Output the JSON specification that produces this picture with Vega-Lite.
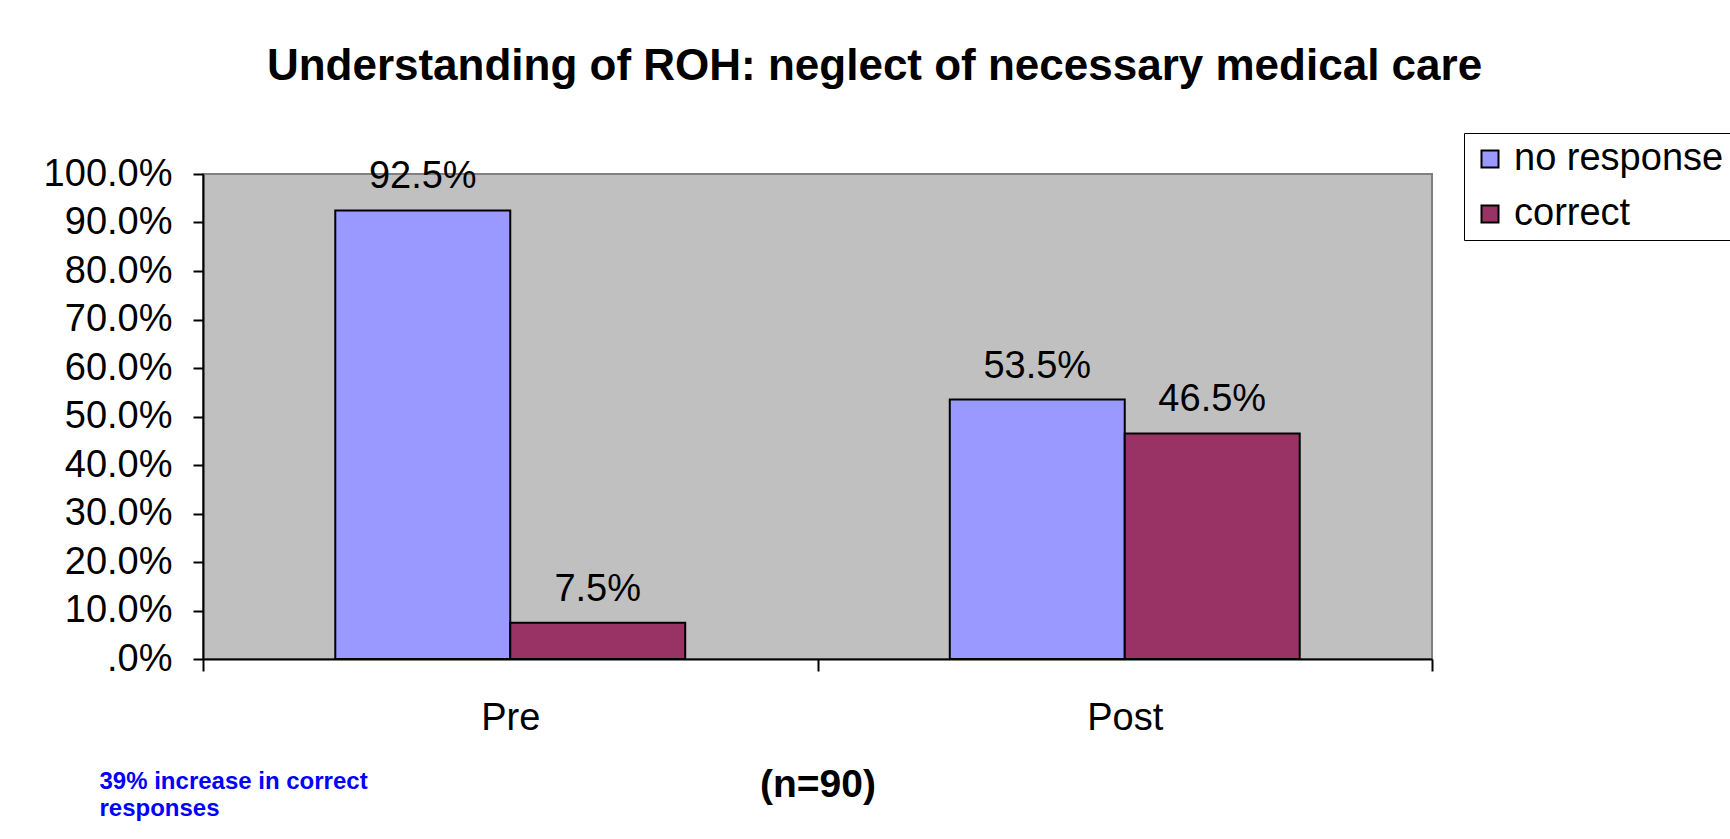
{
  "$schema": "https://vega.github.io/schema/vega-lite/v6.json",
  "autosize": {"type": "none"},
  "width": 1229,
  "height": 485,
  "padding": {"left": 203, "top": 174, "right": 298, "bottom": 180},
  "background": "white",
  "config": {
    "font": "Liberation Sans",
    "view": {"stroke": "#808080", "strokeWidth": 2, "fill": "#C0C0C0"}
  },
  "title": {
    "text": "Understanding of ROH: neglect of necessary medical care",
    "fontSize": 44,
    "fontWeight": "bold",
    "color": "black",
    "anchor": "middle",
    "frame": "group",
    "dx": 57,
    "offset": 44
  },
  "data": {
    "values": [
      {"phase": "Pre", "series": "no response", "value": 0.925},
      {"phase": "Pre", "series": "correct", "value": 0.075},
      {"phase": "Post", "series": "no response", "value": 0.535},
      {"phase": "Post", "series": "correct", "value": 0.465}
    ]
  },
  "encoding": {
    "x": {
      "field": "phase",
      "type": "nominal",
      "sort": ["Pre", "Post"],
      "scale": {"paddingInner": 0, "paddingOuter": 0},
      "axis": {
        "title": "(n=90)",
        "titleFontSize": 39,
        "titleFontWeight": "bold",
        "titleColor": "black",
        "titlePadding": 28,
        "labelAngle": 0,
        "labelFontSize": 38,
        "labelColor": "black",
        "labelPadding": 28,
        "tickBand": "extent",
        "tickSize": 12,
        "tickColor": "black",
        "domainColor": "black",
        "domainWidth": 2,
        "tickWidth": 2
      }
    },
    "xOffset": {
      "field": "series",
      "type": "nominal",
      "sort": ["no response", "correct"],
      "scale": {"paddingOuter": 0.756, "paddingInner": 0}
    }
  },
  "layer": [
    {
      "mark": {"type": "bar", "stroke": "black", "strokeWidth": 2},
      "encoding": {
        "y": {
          "field": "value",
          "type": "quantitative",
          "scale": {"domain": [0, 1], "nice": false},
          "axis": {
            "title": ["39% increase in correct", "responses"],
            "titleColor": "#0000FF",
            "titleFontSize": 24,
            "titleFontWeight": "bold",
            "titleAngle": 0,
            "titleAlign": "left",
            "titleBaseline": "alphabetic",
            "titleLineHeight": 27,
            "titleX": -104,
            "titleY": 614,
            "values": [0, 0.1, 0.2, 0.3, 0.4, 0.5, 0.6, 0.7, 0.8, 0.9, 1],
            "labelExpr": "datum.value == 0 ? '.0%' : format(datum.value, '.1%')",
            "labelFontSize": 38,
            "labelColor": "black",
            "labelPadding": 21,
            "tickSize": 10,
            "tickColor": "black",
            "tickWidth": 2,
            "domainColor": "black",
            "domainWidth": 2,
            "grid": false
          }
        },
        "color": {
          "field": "series",
          "type": "nominal",
          "scale": {"domain": ["no response", "correct"], "range": ["#9999FF", "#993366"]},
          "legend": {
            "title": null,
            "orient": "none",
            "legendX": 1261,
            "legendY": -41,
            "padding": 7,
            "strokeColor": "black",
            "fillColor": "white",
            "symbolType": "square",
            "symbolSize": 289,
            "symbolStrokeColor": "black",
            "symbolStrokeWidth": 2,
            "labelFontSize": 38,
            "labelColor": "black",
            "labelOffset": 5,
            "labelLimit": 400,
            "rowPadding": 17,
            "labelExpr": "datum.value == 'correct' ? '\u2002correct' : datum.label"
          }
        }
      }
    },
    {
      "mark": {"type": "text", "fontSize": 38, "baseline": "alphabetic", "dy": -22, "color": "black"},
      "encoding": {
        "y": {"field": "value", "type": "quantitative"},
        "text": {"field": "value", "type": "quantitative", "format": ".1%"}
      }
    }
  ]
}
